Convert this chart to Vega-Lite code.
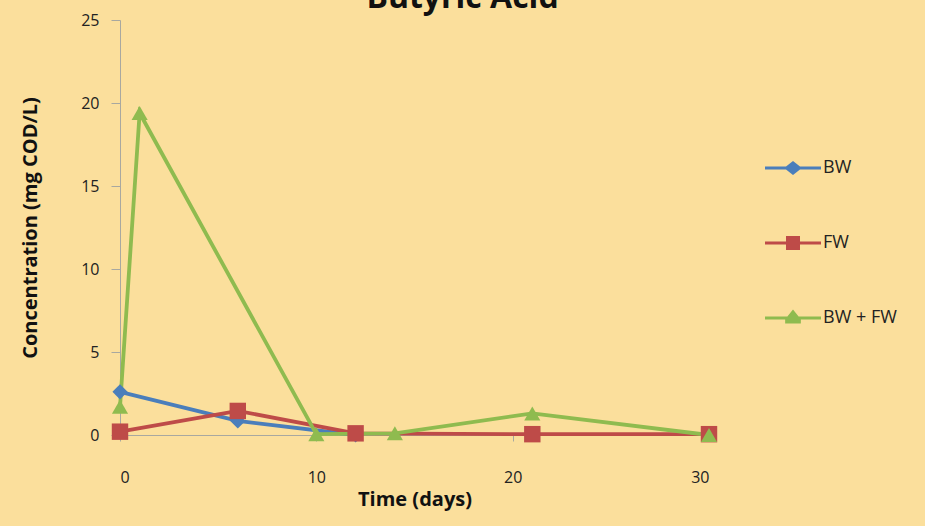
{
  "$schema": "https://vega.github.io/schema/vega-lite/v6.json",
  "width": 589,
  "height": 415,
  "autosize": {"type": "none"},
  "padding": {"left": 120, "top": 20, "right": 216, "bottom": 91},
  "background": "#FBDF9C",
  "title": {"text": "Butyric Acid", "fontSize": 32, "font": "Open Sans", "fontWeight": "bold", "color": "#111111", "anchor": "middle", "dx": 48, "offset": -3},
  "config": {"view": {"stroke": null}},
  "data": {"values": [
    {"day": 0, "conc": 2.6, "series": "BW"},
    {"day": 6, "conc": 0.85, "series": "BW"},
    {"day": 12, "conc": 0.0, "series": "BW"},
    {"day": 0, "conc": 0.2, "series": "FW"},
    {"day": 6, "conc": 1.45, "series": "FW"},
    {"day": 12, "conc": 0.1, "series": "FW"},
    {"day": 21, "conc": 0.05, "series": "FW"},
    {"day": 30, "conc": 0.05, "series": "FW"},
    {"day": 0, "conc": 1.7, "series": "BW + FW"},
    {"day": 1, "conc": 19.4, "series": "BW + FW"},
    {"day": 10, "conc": 0.05, "series": "BW + FW"},
    {"day": 14, "conc": 0.1, "series": "BW + FW"},
    {"day": 21, "conc": 1.3, "series": "BW + FW"},
    {"day": 30, "conc": 0.0, "series": "BW + FW"}
  ]},
  "encoding": {
    "x": {"field": "day", "type": "quantitative", "scale": {"domain": [0, 30], "nice": false},
      "axis": {"title": "Time (days)", "values": [0, 10, 20, 30], "grid": false, "domainColor": "#A8A8A0", "tickColor": "#A8A8A0", "tickSize": 6, "labelPadding": 28, "labelFontSize": 16, "labelFont": "Open Sans", "labelColor": "#222222", "titleFont": "Open Sans", "titleFontSize": 20, "titleFontWeight": "bold", "titleColor": "#111111", "titlePadding": 4}},
    "y": {"field": "conc", "type": "quantitative", "scale": {"domain": [0, 25], "nice": false},
      "axis": {"title": "Concentration (mg COD/L)", "values": [0, 5, 10, 15, 20, 25], "grid": false, "domainColor": "#A8A8A0", "tickColor": "#A8A8A0", "tickSize": 9, "labelPadding": 12, "labelFontSize": 16, "labelFont": "Open Sans", "labelColor": "#222222", "titleFont": "Open Sans", "titleFontSize": 20, "titleFontWeight": "bold", "titleColor": "#111111", "titlePadding": 40}},
    "color": {"field": "series", "type": "nominal", "sort": ["BW", "FW", "BW + FW"],
      "scale": {"domain": ["BW", "FW", "BW + FW"], "range": ["#4A7EBB", "#BE4B48", "#8FBB4F"]},
      "legend": {"title": null, "orient": "none", "legendX": 645, "legendY": 120, "symbolSize": 3136, "rowPadding": 38, "labelFontSize": 18, "labelFont": "Open Sans", "labelColor": "#222222", "labelOffset": 2,
        "encode": {"symbols": {"update": {
          "shape": {"signal": "datum.value === 'BW' ? 'M-1,-0.05L-0.25,-0.05L0,-0.25L0.25,-0.05L1,-0.05L1,0.05L0.25,0.05L0,0.25L-0.25,0.05L-1,0.05Z' : datum.value === 'FW' ? 'M-1,-0.05L-0.25,-0.05L-0.25,-0.25L0.25,-0.25L0.25,-0.05L1,-0.05L1,0.05L0.25,0.05L0.25,0.25L-0.25,0.25L-0.25,0.05L-1,0.05Z' : 'M-1,-0.05L-0.2,-0.05L0,-0.3L0.2,-0.05L1,-0.05L1,0.05L0.28,0.05L0.28,0.2L-0.28,0.2L-0.28,0.05L-1,0.05Z'"},
          "fill": {"signal": "scale('color', datum.value)"},
          "fillOpacity": {"value": 1},
          "strokeWidth": {"value": 0}
        }}}}}
  },
  "layer": [
    {"mark": {"type": "line", "strokeWidth": 3.8}},
    {"transform": [{"filter": "datum.series === 'BW'"}],
      "mark": {"type": "point", "shape": "diamond", "filled": true, "size": 230, "opacity": 1}},
    {"transform": [{"filter": "datum.series === 'FW'"}],
      "mark": {"type": "point", "shape": "square", "filled": true, "size": 270, "opacity": 1}},
    {"transform": [{"filter": "datum.series === 'BW + FW'"}],
      "mark": {"type": "point", "shape": "triangle-up", "filled": true, "size": 260, "opacity": 1}}
  ]
}
